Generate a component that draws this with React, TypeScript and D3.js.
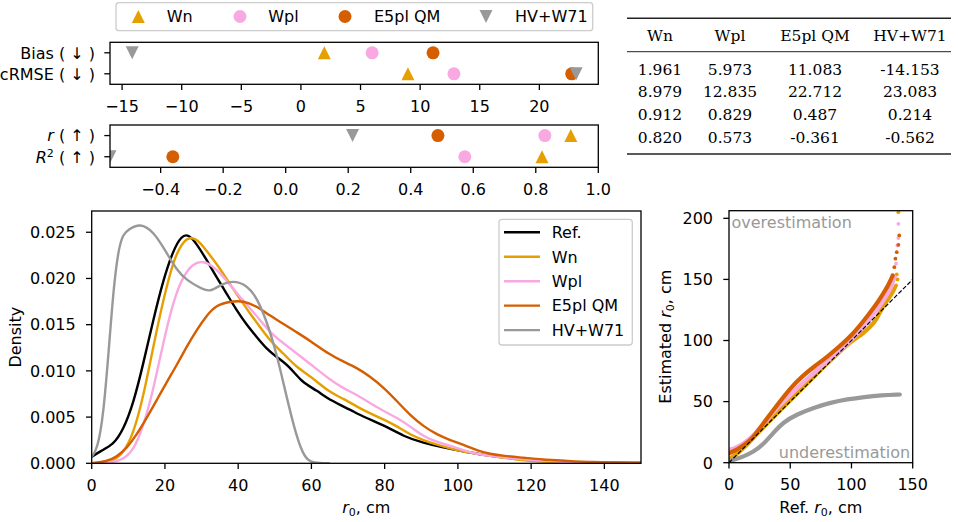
import React from "react";
import * as d3 from "d3";

// ---------- data ----------
const methods = ["Wn", "Wpl", "E5pl QM", "HV+W71"];
const methodColors = ["#E69F00", "#F9A9E1", "#D55E00", "#999999"];
const methodMarkers = ["triangleUp", "circle", "circle", "triangleDown"];

const biasValues = [1.961, 5.973, 11.083, -14.153];
const crmseValues = [8.979, 12.835, 22.712, 23.083];
const rValues = [0.912, 0.829, 0.487, 0.214];
const r2Values = [0.82, 0.573, -0.361, -0.562];

const errTicks = [-15, -10, -5, 0, 5, 10, 15, 20];
const corrTicks = [-0.4, -0.2, 0.0, 0.2, 0.4, 0.6, 0.8, 1.0];
const densityXTicks = [0, 20, 40, 60, 80, 100, 120, 140];
const densityYTicks = [0, 0.005, 0.01, 0.015, 0.02, 0.025];
const qqXTicks = [0, 50, 100, 150];
const qqYTicks = [0, 50, 100, 150, 200];

// kernel density estimates of r0 (cm)
const refDensityX = [0, 2.3, 5.9, 8.6, 11.4, 14.1, 16.8, 19.5, 22.3, 24.5, 26.4, 28.6, 31.4, 34, 36.8, 39.5, 42.3, 45, 47.7, 50.5, 54, 57.3, 61.4, 65.2, 70.6, 74.3, 80, 85.2, 90.6, 96, 101.5, 107, 112.5, 119.7, 128.8, 140, 150];
const refDensityY = [0.0007, 0.0013, 0.002, 0.0036, 0.0065, 0.0108, 0.0155, 0.0198, 0.0231, 0.0246, 0.0248, 0.0238, 0.022, 0.0202, 0.0184, 0.0166, 0.015, 0.0137, 0.0124, 0.0115, 0.0105, 0.0088, 0.0079, 0.0068, 0.0058, 0.005, 0.0041, 0.0029, 0.0022, 0.0017, 0.0013, 0.0009, 0.0006, 0.0004, 0.0001, 0.00003, 0];

const wnDensityX = [0, 5.9, 8.6, 11.4, 14.1, 16.8, 19.5, 22.3, 25, 27.3, 29.5, 32.3, 35, 37.7, 40.5, 43.2, 45.9, 48.6, 52.3, 55.9, 59.5, 65.2, 68.8, 72.5, 76, 80, 83.4, 87, 90.6, 94.3, 99.7, 105.2, 110.6, 116, 121.5, 128.8, 140, 150];
const wnDensityY = [0, 0.0002, 0.0011, 0.0032, 0.0072, 0.0126, 0.0176, 0.022, 0.0241, 0.0245, 0.024, 0.0225, 0.0211, 0.0194, 0.0178, 0.0162, 0.0148, 0.0133, 0.0119, 0.0104, 0.0095, 0.0076, 0.007, 0.0061, 0.0054, 0.0047, 0.004, 0.0031, 0.0025, 0.002, 0.0014, 0.001, 0.0007, 0.0004, 0.0002, 0.0001, 0.00003, 0];

const wplDensityX = [0, 5, 8.6, 11.4, 14.1, 16.8, 19.5, 22.3, 25, 27.7, 30, 32.7, 35.5, 38.2, 40.9, 43.6, 46.4, 49.1, 52.3, 55.9, 59.5, 65.2, 68.8, 72.5, 76, 80, 83.4, 87, 90.6, 94.3, 97.9, 101.5, 105.2, 108.8, 116, 123.3, 130.5, 140, 150];
const wplDensityY = [0, 0.00005, 0.0004, 0.0014, 0.004, 0.0079, 0.013, 0.0176, 0.0203, 0.0216, 0.0219, 0.0215, 0.0204, 0.0191, 0.0178, 0.0166, 0.0153, 0.014, 0.013, 0.0119, 0.0108, 0.009, 0.0081, 0.0074, 0.0065, 0.0056, 0.0049, 0.004, 0.0029, 0.0023, 0.0019, 0.0014, 0.001, 0.0008, 0.0005, 0.0003, 0.0001, 0.00003, 0];

const e5plDensityX = [0, 4.1, 6.8, 9.5, 12.3, 15, 17.7, 20.5, 23.2, 25.9, 28.6, 31.4, 34, 37.7, 41.4, 45, 48.6, 52.3, 55.9, 59.5, 65.2, 68.8, 72.5, 76, 80, 83.4, 87, 90.6, 94.3, 97.9, 101.5, 105.2, 108.8, 112.5, 118, 123.3, 128.8, 136, 150];
const e5plDensityY = [0, 0.0002, 0.0007, 0.0016, 0.0031, 0.0049, 0.0068, 0.0088, 0.0106, 0.0126, 0.0144, 0.016, 0.0171, 0.0175, 0.0176, 0.017, 0.016, 0.0151, 0.0142, 0.0133, 0.0117, 0.011, 0.0103, 0.0094, 0.0081, 0.0067, 0.0052, 0.004, 0.0031, 0.0025, 0.002, 0.0014, 0.001, 0.0008, 0.0006, 0.0004, 0.0003, 0.0001, 0.0001];

const hvDensityX = [0, 1.5, 3.2, 5, 6, 7.3, 8.6, 10, 13.2, 16.8, 20, 23.2, 26, 29.5, 32.3, 35, 38.6, 42.3, 45, 47.7, 50.5, 53.2, 55.9, 58.2, 60.5, 65];
const hvDensityY = [0.0007, 0.0015, 0.005, 0.014, 0.019, 0.0232, 0.0248, 0.0253, 0.026, 0.0251, 0.0231, 0.0209, 0.0198, 0.019, 0.0185, 0.0193, 0.0198, 0.0193, 0.018, 0.0155, 0.0119, 0.0072, 0.0029, 0.0005, 0, 0];

// quantile-quantile pairs: reference r0 vs estimated r0 (cm)
const wnQQRef = [0, 5, 10, 15, 20, 30, 40, 50, 60, 70, 80, 90, 100, 110, 115, 120, 126, 130, 133, 135.6];
const wnQQEst = [3, 6, 10.5, 15, 20.5, 31, 41, 51, 61, 71, 81, 90.5, 99.5, 106, 111, 116, 128.8, 134, 138.3, 143.7];
const wnTailRef = [136.4, 137, 137.6, 138.3];
const wnTailEst = [145, 154, 150, 205];

const wplQQRef = [0, 5, 10, 15, 20, 25, 30, 40, 50, 60, 70, 80, 90, 100, 110, 120, 125, 130, 133, 134.5];
const wplQQEst = [10.5, 12, 14.5, 18, 22.5, 28, 34, 46, 56, 65, 74.5, 82.5, 91, 100.5, 111, 124, 131, 139, 145, 150];
const wplTailRef = [135.6, 136.4, 137.5, 138.3, 138.3];
const wplTailEst = [152, 162.8, 177.8, 183.8, 195.5];

const e5plQQRef = [0, 5, 10, 15, 20, 25, 30, 40, 50, 60, 70, 80, 90, 100, 110, 120, 125, 130, 133.7];
const e5plQQEst = [7.7, 10, 13, 16.5, 21, 28, 35, 48, 61, 71, 79, 86.5, 95, 104, 116, 129, 137, 145, 153.3];
const e5plTailRef = [135, 135.9, 137, 138.3, 139];
const e5plTailEst = [160, 167, 172.3, 178.3, 186];

const hvQQRef = [0, 5, 11.5, 19.8, 28, 36.3, 44.5, 55.5, 69.2, 83, 96.7, 110.4, 124.2, 139.5];
const hvQQEst = [1.4, 2.8, 4.9, 8.7, 15, 24.6, 33.3, 39.6, 45, 49.2, 51.9, 53.8, 55.2, 55.8];

// ---------- styling ----------
const FONT = "DejaVu Sans";
const FS = 16;
const TICK = 5.7;
const SPINE = 1.3;

const fmtMinus = (s: string) => s.replace("-", "\u2212");

function Marker({ kind, x, y, color, size = 13 }: { kind: string; x: number; y: number; color: string; size?: number }) {
  const h = size / 2;
  if (kind === "circle") return <circle cx={x} cy={y} r={h} fill={color} />;
  if (kind === "triangleUp")
    return <path d={`M${x},${y - h}L${x + h},${y + h}L${x - h},${y + h}Z`} fill={color} />;
  return <path d={`M${x},${y + h}L${x + h},${y - h}L${x - h},${y - h}Z`} fill={color} />;
}

function XAxis({ scale, ticks, y, fmt }: { scale: (v: number) => number; ticks: number[]; y: number; fmt: (v: number) => string }) {
  return (
    <g>
      {ticks.map((t) => (
        <g key={t}>
          <line x1={scale(t)} x2={scale(t)} y1={y} y2={y + TICK} stroke="#000" strokeWidth={SPINE} />
          <text x={scale(t)} y={y + 27.3} textAnchor="middle" fontSize={FS} fontFamily={FONT}>
            {fmt(t)}
          </text>
        </g>
      ))}
    </g>
  );
}

function YAxis({ scale, ticks, x, fmt }: { scale: (v: number) => number; ticks: number[]; x: number; fmt: (v: number) => string }) {
  return (
    <g>
      {ticks.map((t) => (
        <g key={t}>
          <line x1={x - TICK} x2={x} y1={scale(t)} y2={scale(t)} stroke="#000" strokeWidth={SPINE} />
          <text x={x - 16} y={scale(t) + 5.8} textAnchor="end" fontSize={FS} fontFamily={FONT}>
            {fmt(t)}
          </text>
        </g>
      ))}
    </g>
  );
}

export default function App() {
  // ---- metric panels ----
  const errBox = { x0: 110, x1: 598.3, y0: 42.3, y1: 84.3 };
  const corrBox = { x0: 110, x1: 598.3, y0: 125, y1: 167.3 };

  const errAll = [...biasValues, ...crmseValues];
  const errMin = d3.min(errAll)!;
  const errMax = d3.max(errAll)!;
  const errPad = (errMax - errMin) * 0.05;
  const errX = d3.scaleLinear().domain([errMin - errPad, errMax + errPad]).range([errBox.x0, errBox.x1]);
  const errRow = d3.scaleLinear().domain([-0.5, 1.5]).range([errBox.y0, errBox.y1]);

  const corrMin = d3.min([...rValues, ...r2Values])!;
  const corrX = d3.scaleLinear().domain([corrMin, 1]).range([corrBox.x0, corrBox.x1]);
  const corrRow = d3.scaleLinear().domain([-0.5, 1.5]).range([corrBox.y0, corrBox.y1]);

  // ---- density panel ----
  const dBox = { x0: 91.7, x1: 641, y0: 211, y1: 463.3 };
  const densMax = d3.max([...refDensityY, ...wnDensityY, ...wplDensityY, ...e5plDensityY, ...hvDensityY])!;
  const dX = d3.scaleLinear().domain([0, 150]).range([dBox.x0, dBox.x1]);
  const dY = d3.scaleLinear().domain([0, densMax * 1.05]).range([dBox.y1, dBox.y0]);
  const densLine = d3
    .line<[number, number]>()
    .x((p) => dX(p[0]))
    .y((p) => dY(p[1]))
    .curve(d3.curveBasis);
  const zip = (a: number[], b: number[]) => a.map((v, i) => [v, b[i]] as [number, number]);
  const densSeries = [
    { name: "Ref.", color: "#000000", pts: zip(refDensityX, refDensityY) },
    { name: methods[0], color: methodColors[0], pts: zip(wnDensityX, wnDensityY) },
    { name: methods[1], color: methodColors[1], pts: zip(wplDensityX, wplDensityY) },
    { name: methods[2], color: methodColors[2], pts: zip(e5plDensityX, e5plDensityY) },
    { name: methods[3], color: methodColors[3], pts: zip(hvDensityX, hvDensityY) },
  ];

  // ---- quantile-quantile panel ----
  const qBox = { x0: 729, x1: 912.7, y0: 210.7, y1: 462.7 };
  const qMax = d3.max([...wnTailEst, ...wplTailEst, ...e5plTailEst])!;
  const qX = d3.scaleLinear().domain([0, 150]).range([qBox.x0, qBox.x1]);
  const qY = d3.scaleLinear().domain([0, qMax * 1.006]).range([qBox.y1, qBox.y0]);
  const qLine = d3
    .line<[number, number]>()
    .x((p) => qX(p[0]))
    .y((p) => qY(p[1]))
    .curve(d3.curveBasis);
  const qqSeries = [
    { color: methodColors[0], pts: zip(wnQQRef, wnQQEst), tail: zip(wnTailRef, wnTailEst) },
    { color: methodColors[1], pts: zip(wplQQRef, wplQQEst), tail: zip(wplTailRef, wplTailEst) },
    { color: methodColors[2], pts: zip(e5plQQRef, e5plQQEst), tail: zip(e5plTailRef, e5plTailEst) },
    { color: methodColors[3], pts: zip(hvQQRef, hvQQEst), tail: [] as [number, number][] },
  ];

  // ---- table ----
  const tableCols = [660, 730, 815, 910];
  const tableRows = [biasValues, crmseValues, rValues, r2Values];
  const rowBaselines = [74.8, 97.4, 120.1, 143];

  const errRows = [biasValues, crmseValues];
  const corrRows = [rValues, r2Values];

  const legendItems = [
    { mx: 138.3, tx: 166.7 },
    { mx: 240, tx: 268.3 },
    { mx: 345, tx: 374 },
    { mx: 486, tx: 515 },
  ];

  return (
    <svg width={958} height={522} style={{ position: "absolute", left: 0, top: 0, background: "#fff" }} fontFamily={FONT}>
      <defs>
        <clipPath id="clipErr">
          <rect x={errBox.x0} y={errBox.y0} width={errBox.x1 - errBox.x0} height={errBox.y1 - errBox.y0} />
        </clipPath>
        <clipPath id="clipCorr">
          <rect x={corrBox.x0} y={corrBox.y0} width={corrBox.x1 - corrBox.x0} height={corrBox.y1 - corrBox.y0} />
        </clipPath>
        <clipPath id="clipDens">
          <rect x={dBox.x0} y={dBox.y0} width={dBox.x1 - dBox.x0} height={dBox.y1 - dBox.y0} />
        </clipPath>
        <clipPath id="clipQQ">
          <rect x={qBox.x0} y={qBox.y0} width={qBox.x1 - qBox.x0} height={qBox.y1 - qBox.y0} />
        </clipPath>
      </defs>
      <rect x={0} y={0} width={958} height={522} fill="#fff" />

      {/* shared marker legend */}
      <rect x={116} y={2.7} width={476.7} height={28} rx={3} fill="#fff" fillOpacity={0.8} stroke="#cccccc" strokeWidth={1.3} />
      {methods.map((m, i) => (
        <g key={m}>
          <Marker kind={methodMarkers[i]} x={legendItems[i].mx} y={16.5} color={methodColors[i]} />
          <text x={legendItems[i].tx} y={22.3} fontSize={FS}>
            {m}
          </text>
        </g>
      ))}

      {/* error metrics panel */}
      <g clipPath="url(#clipErr)">
        {errRows.map((vals, r) =>
          vals.map((v, i) => (
            <Marker key={`${r}-${i}`} kind={methodMarkers[i]} x={errX(v)} y={errRow(r)} color={methodColors[i]} />
          ))
        )}
      </g>
      <rect x={errBox.x0} y={errBox.y0} width={errBox.x1 - errBox.x0} height={errBox.y1 - errBox.y0} fill="none" stroke="#000" strokeWidth={SPINE} />
      <XAxis scale={errX} ticks={errTicks} y={errBox.y1} fmt={(v) => fmtMinus(String(v))} />
      {[0, 1].map((r) => (
        <line key={r} x1={errBox.x0 - TICK} x2={errBox.x0} y1={errRow(r)} y2={errRow(r)} stroke="#000" strokeWidth={SPINE} />
      ))}
      <text x={95} y={errRow(0) + 5.8} textAnchor="end" fontSize={FS}>
        Bias ( ↓ )
      </text>
      <text x={95} y={errRow(1) + 5.8} textAnchor="end" fontSize={FS}>
        cRMSE ( ↓ )
      </text>

      {/* correlation metrics panel */}
      <g clipPath="url(#clipCorr)">
        {corrRows.map((vals, r) =>
          vals.map((v, i) => (
            <Marker key={`${r}-${i}`} kind={methodMarkers[i]} x={corrX(v)} y={corrRow(r)} color={methodColors[i]} />
          ))
        )}
      </g>
      <rect x={corrBox.x0} y={corrBox.y0} width={corrBox.x1 - corrBox.x0} height={corrBox.y1 - corrBox.y0} fill="none" stroke="#000" strokeWidth={SPINE} />
      <XAxis scale={corrX} ticks={corrTicks} y={corrBox.y1} fmt={(v) => fmtMinus(v.toFixed(1))} />
      {[0, 1].map((r) => (
        <line key={r} x1={corrBox.x0 - TICK} x2={corrBox.x0} y1={corrRow(r)} y2={corrRow(r)} stroke="#000" strokeWidth={SPINE} />
      ))}
      <text x={95} y={corrRow(0) + 5.8} textAnchor="end" fontSize={FS}>
        <tspan fontStyle="italic">r</tspan> ( ↑ )
      </text>
      <text x={95} y={corrRow(1) + 5.8} textAnchor="end" fontSize={FS}>
        <tspan fontStyle="italic">R</tspan>
        <tspan fontSize={11} dy={-6}>2</tspan>
        <tspan dy={6}> ( ↑ )</tspan>
      </text>

      {/* metrics table */}
      <g fontFamily="DejaVu Serif" fontSize={15.5}>
        <line x1={627} x2={951} y1={18.3} y2={18.3} stroke="#222" strokeWidth={1.6} />
        <line x1={627} x2={951} y1={51.7} y2={51.7} stroke="#222" strokeWidth={1} />
        <line x1={627} x2={951} y1={154} y2={154} stroke="#222" strokeWidth={1.6} />
        {methods.map((m, i) => (
          <text key={m} x={tableCols[i]} y={40.8} textAnchor="middle">
            {m}
          </text>
        ))}
        {tableRows.map((vals, r) =>
          vals.map((v, i) => (
            <text key={`${r}-${i}`} x={tableCols[i]} y={rowBaselines[r]} textAnchor="middle">
              {v.toFixed(3)}
            </text>
          ))
        )}
      </g>

      {/* density panel */}
      <g clipPath="url(#clipDens)" fill="none">
        {densSeries.map((s) => (
          <path key={s.name} d={densLine(s.pts)!} stroke={s.color} strokeWidth={2.4} strokeLinejoin="round" />
        ))}
      </g>
      <rect x={dBox.x0} y={dBox.y0} width={dBox.x1 - dBox.x0} height={dBox.y1 - dBox.y0} fill="none" stroke="#000" strokeWidth={SPINE} />
      <XAxis scale={dX} ticks={densityXTicks} y={dBox.y1} fmt={(v) => String(v)} />
      <YAxis scale={dY} ticks={densityYTicks} x={dBox.x0} fmt={(v) => v.toFixed(3)} />
      <text transform={`translate(20.5,${(dBox.y0 + dBox.y1) / 2}) rotate(-90)`} textAnchor="middle" fontSize={FS}>
        Density
      </text>
      <text x={(dBox.x0 + dBox.x1) / 2} y={512.5} textAnchor="middle" fontSize={FS}>
        <tspan fontStyle="italic">r</tspan>
        <tspan fontSize={11} dy={3}>0</tspan>
        <tspan dy={-3}>, cm</tspan>
      </text>
      {/* density legend */}
      <rect x={499} y={219.3} width={133.3} height={125.7} rx={3} fill="#fff" fillOpacity={0.8} stroke="#cccccc" strokeWidth={1.3} />
      {densSeries.map((s, i) => (
        <g key={s.name}>
          <line x1={504} x2={540} y1={232.3 + i * 24.45} y2={232.3 + i * 24.45} stroke={s.color} strokeWidth={2.4} />
          <text x={551.7} y={232.3 + i * 24.45 + 5.8} fontSize={FS}>
            {s.name}
          </text>
        </g>
      ))}

      {/* quantile-quantile panel */}
      <g clipPath="url(#clipQQ)">
        {qqSeries.map((s, i) => (
          <g key={i}>
            <path d={qLine(s.pts)!} fill="none" stroke={s.color} strokeWidth={4.2} strokeLinecap="round" strokeLinejoin="round" />
            {s.tail.map((p, j) => (
              <circle key={j} cx={qX(p[0])} cy={qY(p[1])} r={1.9} fill={s.color} />
            ))}
          </g>
        ))}
        <line x1={qX(0)} y1={qY(0)} x2={qX(150)} y2={qY(150)} stroke="#000" strokeWidth={1.2} strokeDasharray="4.4,1.9" />
        <text x={qBox.x0 + 2.5} y={227.5} fontSize={FS} fill="#999999">
          overestimation
        </text>
        <text x={qBox.x1 - 2.5} y={457.5} textAnchor="end" fontSize={FS} fill="#999999">
          underestimation
        </text>
      </g>
      <rect x={qBox.x0} y={qBox.y0} width={qBox.x1 - qBox.x0} height={qBox.y1 - qBox.y0} fill="none" stroke="#000" strokeWidth={SPINE} />
      <XAxis scale={qX} ticks={qqXTicks} y={qBox.y1} fmt={(v) => String(v)} />
      <YAxis scale={qY} ticks={qqYTicks} x={qBox.x0} fmt={(v) => String(v)} />
      <text transform={`translate(670.5,${(qBox.y0 + qBox.y1) / 2}) rotate(-90)`} textAnchor="middle" fontSize={FS}>
        Estimated <tspan fontStyle="italic">r</tspan>
        <tspan fontSize={11} dy={3}>0</tspan>
        <tspan dy={-3}>, cm</tspan>
      </text>
      <text x={(qBox.x0 + qBox.x1) / 2} y={512.5} textAnchor="middle" fontSize={FS}>
        Ref. <tspan fontStyle="italic">r</tspan>
        <tspan fontSize={11} dy={3}>0</tspan>
        <tspan dy={-3}>, cm</tspan>
      </text>
    </svg>
  );
}
